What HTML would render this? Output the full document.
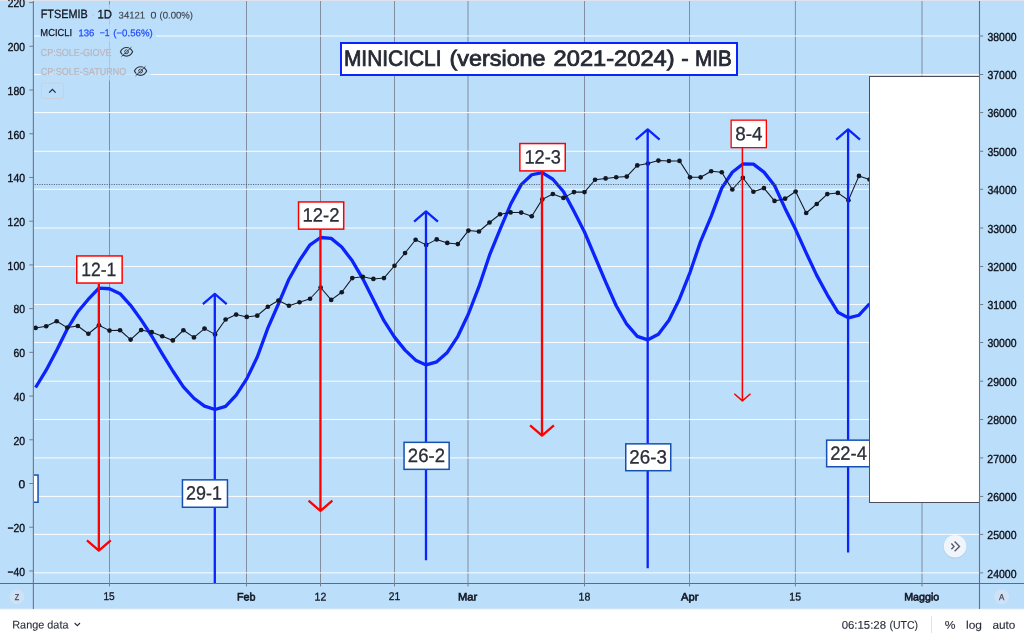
<!DOCTYPE html>
<html lang="it"><head><meta charset="utf-8"><title>MINICICLI (versione 2021-2024) - MIB</title>
<style>
html,body{margin:0;padding:0;width:1024px;height:640px;overflow:hidden;background:#fff;font-family:'Liberation Sans', sans-serif;}
svg{display:block;position:absolute;left:0;top:0;font-family:'Liberation Sans', sans-serif;}
</style></head><body>
<svg width="1024" height="640" viewBox="0 0 1024 640">
<rect x="0" y="0" width="1024" height="609.4" fill="#BBDEFB"/>
<rect x="0" y="0" width="1024" height="1" fill="#dfe2ea"/>
<rect x="0" y="609" width="1024" height="31" fill="#ffffff"/>
<rect x="0" y="608.6" width="1024" height="0.9" fill="#e3eefa"/>
<defs><clipPath id="pane"><rect x="34" y="1" width="945" height="582"/></clipPath></defs>
<g clip-path="url(#pane)">
<rect x="109.00" y="1" width="1" height="582" fill="#747a8a" fill-opacity="0.8"/>
<rect x="246.00" y="1" width="1" height="582" fill="#747a8a" fill-opacity="0.8"/>
<rect x="320.00" y="1" width="1" height="582" fill="#747a8a" fill-opacity="0.8"/>
<rect x="394.00" y="1" width="1" height="582" fill="#747a8a" fill-opacity="0.8"/>
<rect x="467.50" y="1" width="1" height="582" fill="#747a8a" fill-opacity="0.8"/>
<rect x="584.00" y="1" width="1" height="582" fill="#747a8a" fill-opacity="0.8"/>
<rect x="689.00" y="1" width="1" height="582" fill="#747a8a" fill-opacity="0.8"/>
<rect x="794.90" y="1" width="1" height="582" fill="#747a8a" fill-opacity="0.8"/>
<rect x="921.50" y="1" width="1" height="582" fill="#747a8a" fill-opacity="0.8"/>
<rect x="34" y="35.45" width="945" height="1.1" fill="#ffffff" fill-opacity="0.86"/>
<rect x="34" y="73.95" width="945" height="1.1" fill="#ffffff" fill-opacity="0.86"/>
<rect x="34" y="112.00" width="945" height="1.1" fill="#ffffff" fill-opacity="0.86"/>
<rect x="34" y="150.75" width="945" height="1.1" fill="#ffffff" fill-opacity="0.86"/>
<rect x="34" y="188.75" width="945" height="1.1" fill="#ffffff" fill-opacity="0.86"/>
<rect x="34" y="227.45" width="945" height="1.1" fill="#ffffff" fill-opacity="0.86"/>
<rect x="34" y="265.95" width="945" height="1.1" fill="#ffffff" fill-opacity="0.86"/>
<rect x="34" y="303.95" width="945" height="1.1" fill="#ffffff" fill-opacity="0.86"/>
<rect x="34" y="341.95" width="945" height="1.1" fill="#ffffff" fill-opacity="0.86"/>
<rect x="34" y="380.65" width="945" height="1.1" fill="#ffffff" fill-opacity="0.86"/>
<rect x="34" y="418.95" width="945" height="1.1" fill="#ffffff" fill-opacity="0.86"/>
<rect x="34" y="457.35" width="945" height="1.1" fill="#ffffff" fill-opacity="0.86"/>
<rect x="34" y="495.90" width="945" height="1.1" fill="#ffffff" fill-opacity="0.86"/>
<rect x="34" y="533.85" width="945" height="1.1" fill="#ffffff" fill-opacity="0.86"/>
<rect x="34" y="572.30" width="945" height="1.1" fill="#ffffff" fill-opacity="0.86"/>
<rect x="40.5" y="4.5" width="155" height="19" fill="#BBDEFB" fill-opacity="0.7"/>
<rect x="40.5" y="23.5" width="115.5" height="19" fill="#BBDEFB" fill-opacity="0.85"/>
<rect x="40.5" y="42.5" width="96" height="19" fill="#BBDEFB" fill-opacity="0.7"/>
<rect x="40.5" y="61.5" width="110.5" height="19" fill="#BBDEFB" fill-opacity="0.7"/>
<polyline points="35.60,387.50 46.16,370.15 56.71,350.24 67.27,329.00 77.82,311.80 88.38,299.23 98.94,288.07 109.49,288.74 120.05,293.65 130.60,305.30 141.16,319.87 151.72,336.00 162.27,353.80 172.83,371.00 183.38,386.80 193.94,398.25 204.50,406.15 215.05,409.48 225.61,406.44 236.16,395.10 246.72,378.90 257.28,357.00 267.83,328.18 278.39,303.99 288.94,279.21 299.50,260.44 310.06,244.79 320.61,237.51 331.17,238.39 341.72,247.07 352.28,260.87 362.84,278.84 373.39,299.78 383.95,320.70 394.50,337.12 405.06,350.10 415.62,360.14 426.17,364.95 436.73,361.80 447.28,352.45 457.84,336.32 468.40,314.01 478.95,286.70 489.51,255.20 500.06,229.26 510.62,204.27 521.18,184.60 531.73,174.75 542.29,172.68 552.84,179.25 563.40,191.51 573.96,211.30 584.51,232.00 595.07,257.00 605.62,281.90 616.18,305.74 626.74,324.20 637.29,336.35 647.85,339.82 658.40,334.28 668.96,320.20 679.52,298.90 690.07,272.30 700.63,241.30 711.18,216.30 721.74,188.08 732.30,172.26 742.85,164.00 753.41,164.11 763.96,172.14 774.52,185.51 785.08,208.40 795.63,229.60 806.19,252.88 816.74,275.40 827.30,294.80 837.86,312.20 848.41,317.91 858.97,315.23 869.52,303.75" fill="none" stroke="#0b24fb" stroke-width="3.3" stroke-linejoin="round" stroke-linecap="butt"/>
<polyline points="35.60,327.90 46.16,326.25 56.71,321.25 67.27,327.60 77.82,326.00 88.38,333.75 98.94,325.25 109.49,330.60 120.05,330.25 130.60,339.60 141.16,330.00 151.72,332.20 162.27,336.25 172.83,340.40 183.38,330.25 193.94,337.40 204.50,328.60 215.05,334.40 225.61,319.50 236.16,314.60 246.72,316.90 257.28,315.70 267.83,306.75 278.39,300.50 288.94,305.75 299.50,302.25 310.06,298.75 320.61,287.50 331.17,299.90 341.72,292.25 352.28,278.10 362.84,276.75 373.39,278.90 383.95,278.10 394.50,265.75 405.06,253.00 415.62,239.75 426.17,244.90 436.73,239.40 447.28,242.90 457.84,244.10 468.40,230.60 478.95,231.50 489.51,222.50 500.06,214.25 510.62,212.45 521.18,212.60 531.73,216.25 542.29,199.40 552.84,194.00 563.40,197.90 573.96,192.10 584.51,192.10 595.07,179.75 605.62,178.40 616.18,177.25 626.74,176.60 637.29,165.40 647.85,163.50 658.40,160.60 668.96,161.00 679.52,160.90 690.07,177.30 700.63,177.30 711.18,171.25 721.74,172.25 732.30,189.50 742.85,177.75 753.41,191.75 763.96,188.10 774.52,200.90 785.08,198.70 795.63,191.50 806.19,213.00 816.74,204.00 827.30,194.10 837.86,192.90 848.41,200.25 858.97,175.90 869.52,179.50" fill="none" stroke="#131722" stroke-width="1.05" stroke-linejoin="round"/>
<g fill="#131722">
<circle cx="35.60" cy="327.90" r="2.35"/>
<circle cx="46.16" cy="326.25" r="2.35"/>
<circle cx="56.71" cy="321.25" r="2.35"/>
<circle cx="67.27" cy="327.60" r="2.35"/>
<circle cx="77.82" cy="326.00" r="2.35"/>
<circle cx="88.38" cy="333.75" r="2.35"/>
<circle cx="98.94" cy="325.25" r="2.35"/>
<circle cx="109.49" cy="330.60" r="2.35"/>
<circle cx="120.05" cy="330.25" r="2.35"/>
<circle cx="130.60" cy="339.60" r="2.35"/>
<circle cx="141.16" cy="330.00" r="2.35"/>
<circle cx="151.72" cy="332.20" r="2.35"/>
<circle cx="162.27" cy="336.25" r="2.35"/>
<circle cx="172.83" cy="340.40" r="2.35"/>
<circle cx="183.38" cy="330.25" r="2.35"/>
<circle cx="193.94" cy="337.40" r="2.35"/>
<circle cx="204.50" cy="328.60" r="2.35"/>
<circle cx="215.05" cy="334.40" r="2.35"/>
<circle cx="225.61" cy="319.50" r="2.35"/>
<circle cx="236.16" cy="314.60" r="2.35"/>
<circle cx="246.72" cy="316.90" r="2.35"/>
<circle cx="257.28" cy="315.70" r="2.35"/>
<circle cx="267.83" cy="306.75" r="2.35"/>
<circle cx="278.39" cy="300.50" r="2.35"/>
<circle cx="288.94" cy="305.75" r="2.35"/>
<circle cx="299.50" cy="302.25" r="2.35"/>
<circle cx="310.06" cy="298.75" r="2.35"/>
<circle cx="320.61" cy="287.50" r="2.35"/>
<circle cx="331.17" cy="299.90" r="2.35"/>
<circle cx="341.72" cy="292.25" r="2.35"/>
<circle cx="352.28" cy="278.10" r="2.35"/>
<circle cx="362.84" cy="276.75" r="2.35"/>
<circle cx="373.39" cy="278.90" r="2.35"/>
<circle cx="383.95" cy="278.10" r="2.35"/>
<circle cx="394.50" cy="265.75" r="2.35"/>
<circle cx="405.06" cy="253.00" r="2.35"/>
<circle cx="415.62" cy="239.75" r="2.35"/>
<circle cx="426.17" cy="244.90" r="2.35"/>
<circle cx="436.73" cy="239.40" r="2.35"/>
<circle cx="447.28" cy="242.90" r="2.35"/>
<circle cx="457.84" cy="244.10" r="2.35"/>
<circle cx="468.40" cy="230.60" r="2.35"/>
<circle cx="478.95" cy="231.50" r="2.35"/>
<circle cx="489.51" cy="222.50" r="2.35"/>
<circle cx="500.06" cy="214.25" r="2.35"/>
<circle cx="510.62" cy="212.45" r="2.35"/>
<circle cx="521.18" cy="212.60" r="2.35"/>
<circle cx="531.73" cy="216.25" r="2.35"/>
<circle cx="542.29" cy="199.40" r="2.35"/>
<circle cx="552.84" cy="194.00" r="2.35"/>
<circle cx="563.40" cy="197.90" r="2.35"/>
<circle cx="573.96" cy="192.10" r="2.35"/>
<circle cx="584.51" cy="192.10" r="2.35"/>
<circle cx="595.07" cy="179.75" r="2.35"/>
<circle cx="605.62" cy="178.40" r="2.35"/>
<circle cx="616.18" cy="177.25" r="2.35"/>
<circle cx="626.74" cy="176.60" r="2.35"/>
<circle cx="637.29" cy="165.40" r="2.35"/>
<circle cx="647.85" cy="163.50" r="2.35"/>
<circle cx="658.40" cy="160.60" r="2.35"/>
<circle cx="668.96" cy="161.00" r="2.35"/>
<circle cx="679.52" cy="160.90" r="2.35"/>
<circle cx="690.07" cy="177.30" r="2.35"/>
<circle cx="700.63" cy="177.30" r="2.35"/>
<circle cx="711.18" cy="171.25" r="2.35"/>
<circle cx="721.74" cy="172.25" r="2.35"/>
<circle cx="732.30" cy="189.50" r="2.35"/>
<circle cx="742.85" cy="177.75" r="2.35"/>
<circle cx="753.41" cy="191.75" r="2.35"/>
<circle cx="763.96" cy="188.10" r="2.35"/>
<circle cx="774.52" cy="200.90" r="2.35"/>
<circle cx="785.08" cy="198.70" r="2.35"/>
<circle cx="795.63" cy="191.50" r="2.35"/>
<circle cx="806.19" cy="213.00" r="2.35"/>
<circle cx="816.74" cy="204.00" r="2.35"/>
<circle cx="827.30" cy="194.10" r="2.35"/>
<circle cx="837.86" cy="192.90" r="2.35"/>
<circle cx="848.41" cy="200.25" r="2.35"/>
<circle cx="858.97" cy="175.90" r="2.35"/>
<circle cx="869.52" cy="179.50" r="2.35"/>
</g>
<line x1="34.6" y1="184.55" x2="979" y2="184.55" stroke="#4a5062" stroke-opacity="0.85" stroke-width="1.1" stroke-dasharray="1.1 1.3"/>
<path d="M98.85 284V550.62M86.95 540.42L98.85 550.62L110.75 540.42" fill="none" stroke="#ff0000" stroke-width="2.3" stroke-linejoin="round"/>
<path d="M320.45 229V510.92M308.55 500.72L320.45 510.92L332.35 500.72" fill="none" stroke="#ff0000" stroke-width="2.3" stroke-linejoin="round"/>
<path d="M542.0 171V435.62M530.10 425.42L542.0 435.62L553.90 425.42" fill="none" stroke="#ff0000" stroke-width="2.3" stroke-linejoin="round"/>
<path d="M742.4 148V400.90M734.30 393.80L742.4 400.90L750.50 393.80" fill="none" stroke="#ff0000" stroke-width="1.5" stroke-linejoin="round"/>
<path d="M214.8 590V293.88M202.90 304.08L214.8 293.88L226.70 304.08" fill="none" stroke="#0b24fb" stroke-width="2.3" stroke-linejoin="round"/>
<path d="M426.0 560.2V211.38M414.10 221.58L426.0 211.38L437.90 221.58" fill="none" stroke="#0b24fb" stroke-width="2.3" stroke-linejoin="round"/>
<path d="M647.7 568.2V129.38M635.80 139.58L647.7 129.38L659.60 139.58" fill="none" stroke="#0b24fb" stroke-width="2.3" stroke-linejoin="round"/>
<path d="M848.1 552.6V129.38M836.20 139.58L848.1 129.38L860.00 139.58" fill="none" stroke="#0b24fb" stroke-width="2.3" stroke-linejoin="round"/>
<rect x="76.75" y="255.95" width="45.40" height="27.10" fill="#fff" stroke="#ff0000" stroke-width="1.5"/>
<text transform="translate(81.14 275.6) rotate(0.03)" font-size="19.2" fill="#2a2e39" stroke="#2a2e39" stroke-width="0.3" textLength="35.07" lengthAdjust="spacingAndGlyphs">12-1</text>
<rect x="298.55" y="201.95" width="45.15" height="27.20" fill="#fff" stroke="#ff0000" stroke-width="1.5"/>
<text transform="translate(302.56 221.6) rotate(0.03)" font-size="19.2" fill="#2a2e39" stroke="#2a2e39" stroke-width="0.3" textLength="36.99" lengthAdjust="spacingAndGlyphs">12-2</text>
<rect x="519.85" y="143.55" width="45.40" height="27.35" fill="#fff" stroke="#ff0000" stroke-width="1.5"/>
<text transform="translate(524.38 163.4) rotate(0.03)" font-size="19.2" fill="#2a2e39" stroke="#2a2e39" stroke-width="0.3" textLength="36.47" lengthAdjust="spacingAndGlyphs">12-3</text>
<rect x="731.15" y="120.15" width="35.20" height="27.50" fill="#fff" stroke="#ff0000" stroke-width="1.3"/>
<text transform="translate(735.15 140.2) rotate(0.03)" font-size="19.2" fill="#2a2e39" stroke="#2a2e39" stroke-width="0.3" textLength="27.23" lengthAdjust="spacingAndGlyphs">8-4</text>
<rect x="182.45" y="479.85" width="45.00" height="27.40" fill="#fff" stroke="#1650b0" stroke-width="1.5"/>
<text transform="translate(186.05 499.5) rotate(0.03)" font-size="19.2" fill="#2a2e39" stroke="#2a2e39" stroke-width="0.3" textLength="35.87" lengthAdjust="spacingAndGlyphs">29-1</text>
<rect x="404.05" y="442.35" width="45.10" height="27.00" fill="#fff" stroke="#1650b0" stroke-width="1.5"/>
<text transform="translate(407.87 462.0) rotate(0.03)" font-size="19.2" fill="#2a2e39" stroke="#2a2e39" stroke-width="0.3" textLength="37.13" lengthAdjust="spacingAndGlyphs">26-2</text>
<rect x="625.75" y="443.85" width="45.00" height="26.85" fill="#fff" stroke="#1650b0" stroke-width="1.5"/>
<text transform="translate(629.31 463.5) rotate(0.03)" font-size="19.2" fill="#2a2e39" stroke="#2a2e39" stroke-width="0.3" textLength="37.56" lengthAdjust="spacingAndGlyphs">26-3</text>
<rect x="826.65" y="440.15" width="45.00" height="26.60" fill="#fff" stroke="#1650b0" stroke-width="1.5"/>
<text transform="translate(830.13 459.7) rotate(0.03)" font-size="19.2" fill="#2a2e39" stroke="#2a2e39" stroke-width="0.3" textLength="36.75" lengthAdjust="spacingAndGlyphs">22-4</text>
<rect x="-9.25" y="475.05" width="47.30" height="27.20" fill="#fff" stroke="#1650b0" stroke-width="1.5"/>
<rect x="341" y="43" width="396" height="32" fill="#fff" stroke="#0b24fb" stroke-width="2"/>
<text transform="translate(343.92 65.75) rotate(0.03)" font-size="22.0" fill="#262a35" stroke="#262a35" stroke-width="0.8" textLength="97.6" lengthAdjust="spacingAndGlyphs">MINICICLI</text>
<text transform="translate(449.54 65.75) rotate(0.03)" font-size="22.0" fill="#262a35" stroke="#262a35" stroke-width="0.8" textLength="96.06" lengthAdjust="spacingAndGlyphs">(versione</text>
<text transform="translate(553.62 65.75) rotate(0.03)" font-size="22.0" fill="#262a35" stroke="#262a35" stroke-width="0.8" textLength="120.97" lengthAdjust="spacingAndGlyphs">2021-2024)</text>
<text transform="translate(681.3 65.75) rotate(0.03)" font-size="22.0" fill="#262a35" stroke="#262a35" stroke-width="0.8" textLength="7.42" lengthAdjust="spacingAndGlyphs">-</text>
<text transform="translate(694.94 65.75) rotate(0.03)" font-size="22.0" fill="#262a35" stroke="#262a35" stroke-width="0.8" textLength="36.75" lengthAdjust="spacingAndGlyphs">MIB</text>
<rect x="869.5" y="76.5" width="112" height="426" fill="#fff" stroke="#4c505c" stroke-width="1"/>
<circle cx="955.1" cy="547" r="11.6" fill="#6d8fb5" fill-opacity="0.18"/>
<circle cx="955.1" cy="546.3" r="11.3" fill="#f0f5fc"/>
<path d="M951.4 543.5L954 546.4L951.4 549.3M954.6 541.6L959.5 546.4L954.6 551.2" fill="none" stroke="#555966" stroke-width="1.35"/>
<text transform="translate(40.76 18.15) rotate(0.03)" font-size="12.0" fill="#131722" stroke="#131722" stroke-width="0.3" textLength="46.84" lengthAdjust="spacingAndGlyphs">FTSEMIB</text>
<text transform="translate(91.2 18.3) rotate(0.03)" font-size="12" fill="#c9b9c4">·</text>
<text transform="translate(97.5 18.15) rotate(0.03)" font-size="12.0" fill="#131722" stroke="#131722" stroke-width="0.3" textLength="14.5" lengthAdjust="spacingAndGlyphs">1D</text>
<text transform="translate(118.6 18.4) rotate(0.03)" font-size="9.7" fill="#3a3e49" stroke="#3a3e49" stroke-width="0.12" textLength="26.5" lengthAdjust="spacingAndGlyphs">34121</text>
<text transform="translate(150.43 18.4) rotate(0.03)" font-size="9.7" fill="#3a3e49" stroke="#3a3e49" stroke-width="0.12" textLength="5.92" lengthAdjust="spacingAndGlyphs">0</text>
<text transform="translate(159.56 18.4) rotate(0.03)" font-size="9.7" fill="#3a3e49" stroke="#3a3e49" stroke-width="0.12" textLength="33.49" lengthAdjust="spacingAndGlyphs">(0.00%)</text>
<text transform="translate(40.35 36.2) rotate(0.03)" font-size="10.1" fill="#131722" stroke="#131722" stroke-width="0.25" textLength="31.68" lengthAdjust="spacingAndGlyphs">MCICLI</text>
<text transform="translate(78.41 36.2) rotate(0.03)" font-size="9.8" fill="#1f4cff" stroke="#1f4cff" stroke-width="0.25" textLength="15.88" lengthAdjust="spacingAndGlyphs">136</text>
<text transform="translate(99.79 36.2) rotate(0.03)" font-size="9.8" fill="#1f4cff" stroke="#1f4cff" stroke-width="0.25" textLength="9.9" lengthAdjust="spacingAndGlyphs">−1</text>
<text transform="translate(113.27 36.2) rotate(0.03)" font-size="9.8" fill="#1f4cff" stroke="#1f4cff" stroke-width="0.25" textLength="39.41" lengthAdjust="spacingAndGlyphs">(−0.56%)</text>
<text transform="translate(40.65 55.6) rotate(0.03)" font-size="10.1" fill="#bbb6be" stroke="#bbb6be" stroke-width="0.2" textLength="70.94" lengthAdjust="spacingAndGlyphs">CP:SOLE-GIOVE</text>
<text transform="translate(40.75 74.9) rotate(0.03)" font-size="10.1" fill="#bbb6be" stroke="#bbb6be" stroke-width="0.2" textLength="85.48" lengthAdjust="spacingAndGlyphs">CP:SOLE-SATURNO</text>
<g fill="none" stroke="#30343f" stroke-width="1.15" transform="translate(126.5 51.8)"><path d="M-6.1 0C-4.7 -3 -2.5 -4.3 0 -4.3C2.5 -4.3 4.7 -3 6.1 0C4.7 3 2.5 4.3 0 4.3C-2.5 4.3 -4.7 3 -6.1 0Z"/><circle cx="0" cy="0" r="1.9" stroke-width="1"/><path d="M-5.5 4.0L4.3 -5.3" stroke="#BBDEFB" stroke-width="0.7"/><path d="M-4.9 4.7L4.9 -4.6" stroke-width="0.95"/></g>
<g fill="none" stroke="#30343f" stroke-width="1.15" transform="translate(140.55 71.05)"><path d="M-6.1 0C-4.7 -3 -2.5 -4.3 0 -4.3C2.5 -4.3 4.7 -3 6.1 0C4.7 3 2.5 4.3 0 4.3C-2.5 4.3 -4.7 3 -6.1 0Z"/><circle cx="0" cy="0" r="1.9" stroke-width="1"/><path d="M-5.5 4.0L4.3 -5.3" stroke="#BBDEFB" stroke-width="0.7"/><path d="M-4.9 4.7L4.9 -4.6" stroke-width="0.95"/></g>
<rect x="41.4" y="83" width="22" height="15.6" rx="2" fill="none" stroke="#cdced9" stroke-width="1"/>
<path d="M49.2 92.6L52.4 89.4L55.6 92.6" fill="none" stroke="#2a2e39" stroke-width="1.3"/>
</g>
<rect x="32.8" y="1" width="1.2" height="608" fill="#777c8a"/>
<rect x="978.95" y="1" width="1.1" height="608" fill="#6a6f7d"/>
<rect x="0" y="583" width="1024" height="1" fill="#666a78"/>
<rect x="29.3" y="570.44" width="4" height="1" fill="#777c8a"/>
<text transform="translate(7.46 575.79) rotate(0.03)" font-size="11.7" fill="#0b0d14" stroke="#0b0d14" stroke-width="0.35" textLength="17.57" lengthAdjust="spacingAndGlyphs">−40</text>
<rect x="29.3" y="526.72" width="4" height="1" fill="#777c8a"/>
<text transform="translate(7.46 532.07) rotate(0.03)" font-size="11.7" fill="#0b0d14" stroke="#0b0d14" stroke-width="0.35" textLength="17.57" lengthAdjust="spacingAndGlyphs">−20</text>
<rect x="29.3" y="483.00" width="4" height="1" fill="#777c8a"/>
<text transform="translate(18.39 488.35) rotate(0.03)" font-size="11.7" fill="#0b0d14" stroke="#0b0d14" stroke-width="0.35" textLength="6.7" lengthAdjust="spacingAndGlyphs">0</text>
<rect x="29.3" y="439.28" width="4" height="1" fill="#777c8a"/>
<text transform="translate(13.45 444.63) rotate(0.03)" font-size="11.7" fill="#0b0d14" stroke="#0b0d14" stroke-width="0.35" textLength="11.59" lengthAdjust="spacingAndGlyphs">20</text>
<rect x="29.3" y="395.56" width="4" height="1" fill="#777c8a"/>
<text transform="translate(13.75 400.91) rotate(0.03)" font-size="11.7" fill="#0b0d14" stroke="#0b0d14" stroke-width="0.35" textLength="11.28" lengthAdjust="spacingAndGlyphs">40</text>
<rect x="29.3" y="351.84" width="4" height="1" fill="#777c8a"/>
<text transform="translate(13.45 357.19) rotate(0.03)" font-size="11.7" fill="#0b0d14" stroke="#0b0d14" stroke-width="0.35" textLength="11.59" lengthAdjust="spacingAndGlyphs">60</text>
<rect x="29.3" y="308.12" width="4" height="1" fill="#777c8a"/>
<text transform="translate(13.54 313.47) rotate(0.03)" font-size="11.7" fill="#0b0d14" stroke="#0b0d14" stroke-width="0.35" textLength="11.5" lengthAdjust="spacingAndGlyphs">80</text>
<rect x="29.3" y="264.40" width="4" height="1" fill="#777c8a"/>
<text transform="translate(7.59 269.75) rotate(0.03)" font-size="11.7" fill="#0b0d14" stroke="#0b0d14" stroke-width="0.35" textLength="17.44" lengthAdjust="spacingAndGlyphs">100</text>
<rect x="29.3" y="220.68" width="4" height="1" fill="#777c8a"/>
<text transform="translate(7.59 226.03) rotate(0.03)" font-size="11.7" fill="#0b0d14" stroke="#0b0d14" stroke-width="0.35" textLength="17.44" lengthAdjust="spacingAndGlyphs">120</text>
<rect x="29.3" y="176.96" width="4" height="1" fill="#777c8a"/>
<text transform="translate(7.59 182.31) rotate(0.03)" font-size="11.7" fill="#0b0d14" stroke="#0b0d14" stroke-width="0.35" textLength="17.44" lengthAdjust="spacingAndGlyphs">140</text>
<rect x="29.3" y="133.24" width="4" height="1" fill="#777c8a"/>
<text transform="translate(7.59 138.59) rotate(0.03)" font-size="11.7" fill="#0b0d14" stroke="#0b0d14" stroke-width="0.35" textLength="17.44" lengthAdjust="spacingAndGlyphs">160</text>
<rect x="29.3" y="89.52" width="4" height="1" fill="#777c8a"/>
<text transform="translate(7.59 94.87) rotate(0.03)" font-size="11.7" fill="#0b0d14" stroke="#0b0d14" stroke-width="0.35" textLength="17.44" lengthAdjust="spacingAndGlyphs">180</text>
<rect x="29.3" y="45.80" width="4" height="1" fill="#777c8a"/>
<text transform="translate(7.86 51.15) rotate(0.03)" font-size="11.7" fill="#0b0d14" stroke="#0b0d14" stroke-width="0.35" textLength="17.16" lengthAdjust="spacingAndGlyphs">200</text>
<rect x="29.3" y="2.08" width="4" height="1" fill="#777c8a"/>
<text transform="translate(7.86 7.43) rotate(0.03)" font-size="11.7" fill="#0b0d14" stroke="#0b0d14" stroke-width="0.35" textLength="17.16" lengthAdjust="spacingAndGlyphs">220</text>
<rect x="979" y="35.50" width="4.2" height="1" fill="#777c8a"/>
<text transform="translate(987.48 40.9) rotate(0.03)" font-size="11.7" fill="#0b0d14" stroke="#0b0d14" stroke-width="0.35" textLength="29.04" lengthAdjust="spacingAndGlyphs">38000</text>
<rect x="979" y="74.00" width="4.2" height="1" fill="#777c8a"/>
<text transform="translate(987.48 79.4) rotate(0.03)" font-size="11.7" fill="#0b0d14" stroke="#0b0d14" stroke-width="0.35" textLength="29.04" lengthAdjust="spacingAndGlyphs">37000</text>
<rect x="979" y="112.05" width="4.2" height="1" fill="#777c8a"/>
<text transform="translate(987.48 117.45) rotate(0.03)" font-size="11.7" fill="#0b0d14" stroke="#0b0d14" stroke-width="0.35" textLength="29.04" lengthAdjust="spacingAndGlyphs">36000</text>
<rect x="979" y="150.80" width="4.2" height="1" fill="#777c8a"/>
<text transform="translate(987.48 156.2) rotate(0.03)" font-size="11.7" fill="#0b0d14" stroke="#0b0d14" stroke-width="0.35" textLength="29.04" lengthAdjust="spacingAndGlyphs">35000</text>
<rect x="979" y="188.80" width="4.2" height="1" fill="#777c8a"/>
<text transform="translate(987.48 194.2) rotate(0.03)" font-size="11.7" fill="#0b0d14" stroke="#0b0d14" stroke-width="0.35" textLength="29.04" lengthAdjust="spacingAndGlyphs">34000</text>
<rect x="979" y="227.50" width="4.2" height="1" fill="#777c8a"/>
<text transform="translate(987.48 232.9) rotate(0.03)" font-size="11.7" fill="#0b0d14" stroke="#0b0d14" stroke-width="0.35" textLength="29.04" lengthAdjust="spacingAndGlyphs">33000</text>
<rect x="979" y="266.00" width="4.2" height="1" fill="#777c8a"/>
<text transform="translate(987.48 271.4) rotate(0.03)" font-size="11.7" fill="#0b0d14" stroke="#0b0d14" stroke-width="0.35" textLength="29.04" lengthAdjust="spacingAndGlyphs">32000</text>
<rect x="979" y="304.00" width="4.2" height="1" fill="#777c8a"/>
<text transform="translate(987.48 309.4) rotate(0.03)" font-size="11.7" fill="#0b0d14" stroke="#0b0d14" stroke-width="0.35" textLength="29.04" lengthAdjust="spacingAndGlyphs">31000</text>
<rect x="979" y="342.00" width="4.2" height="1" fill="#777c8a"/>
<text transform="translate(987.48 347.4) rotate(0.03)" font-size="11.7" fill="#0b0d14" stroke="#0b0d14" stroke-width="0.35" textLength="29.04" lengthAdjust="spacingAndGlyphs">30000</text>
<rect x="979" y="380.70" width="4.2" height="1" fill="#777c8a"/>
<text transform="translate(987.35 386.1) rotate(0.03)" font-size="11.7" fill="#0b0d14" stroke="#0b0d14" stroke-width="0.35" textLength="29.18" lengthAdjust="spacingAndGlyphs">29000</text>
<rect x="979" y="419.00" width="4.2" height="1" fill="#777c8a"/>
<text transform="translate(987.35 424.4) rotate(0.03)" font-size="11.7" fill="#0b0d14" stroke="#0b0d14" stroke-width="0.35" textLength="29.18" lengthAdjust="spacingAndGlyphs">28000</text>
<rect x="979" y="457.40" width="4.2" height="1" fill="#777c8a"/>
<text transform="translate(987.35 462.8) rotate(0.03)" font-size="11.7" fill="#0b0d14" stroke="#0b0d14" stroke-width="0.35" textLength="29.18" lengthAdjust="spacingAndGlyphs">27000</text>
<rect x="979" y="495.95" width="4.2" height="1" fill="#777c8a"/>
<text transform="translate(987.35 501.35) rotate(0.03)" font-size="11.7" fill="#0b0d14" stroke="#0b0d14" stroke-width="0.35" textLength="29.18" lengthAdjust="spacingAndGlyphs">26000</text>
<rect x="979" y="533.90" width="4.2" height="1" fill="#777c8a"/>
<text transform="translate(987.35 539.3) rotate(0.03)" font-size="11.7" fill="#0b0d14" stroke="#0b0d14" stroke-width="0.35" textLength="29.18" lengthAdjust="spacingAndGlyphs">25000</text>
<rect x="979" y="572.35" width="4.2" height="1" fill="#777c8a"/>
<text transform="translate(987.35 577.75) rotate(0.03)" font-size="11.7" fill="#0b0d14" stroke="#0b0d14" stroke-width="0.35" textLength="29.18" lengthAdjust="spacingAndGlyphs">24000</text>
<rect x="109.00" y="583" width="1" height="3.4" fill="#777c8a"/>
<text transform="translate(103.39 600.45) rotate(0.03)" font-size="11.2" fill="#131722" stroke="#131722" stroke-width="0.3" textLength="11.29" lengthAdjust="spacingAndGlyphs">15</text>
<rect x="246.00" y="583" width="1" height="3.4" fill="#777c8a"/>
<text transform="translate(236.92 600.45) rotate(0.03)" font-size="10.8" fill="#131722" stroke="#131722" stroke-width="0.6" textLength="18.47" lengthAdjust="spacingAndGlyphs">Feb</text>
<rect x="320.00" y="583" width="1" height="3.4" fill="#777c8a"/>
<text transform="translate(314.61 600.45) rotate(0.03)" font-size="11.2" fill="#131722" stroke="#131722" stroke-width="0.3" textLength="11.69" lengthAdjust="spacingAndGlyphs">12</text>
<rect x="394.00" y="583" width="1" height="3.4" fill="#777c8a"/>
<text transform="translate(388.84 600.45) rotate(0.03)" font-size="11.2" fill="#131722" stroke="#131722" stroke-width="0.3" textLength="11.43" lengthAdjust="spacingAndGlyphs">21</text>
<rect x="467.50" y="583" width="1" height="3.4" fill="#777c8a"/>
<text transform="translate(457.88 600.45) rotate(0.03)" font-size="10.8" fill="#131722" stroke="#131722" stroke-width="0.6" textLength="19.24" lengthAdjust="spacingAndGlyphs">Mar</text>
<rect x="584.00" y="583" width="1" height="3.4" fill="#777c8a"/>
<text transform="translate(578.56 600.45) rotate(0.03)" font-size="11.2" fill="#131722" stroke="#131722" stroke-width="0.3" textLength="11.77" lengthAdjust="spacingAndGlyphs">18</text>
<rect x="689.00" y="583" width="1" height="3.4" fill="#777c8a"/>
<text transform="translate(681.02 600.45) rotate(0.03)" font-size="10.8" fill="#131722" stroke="#131722" stroke-width="0.6" textLength="17.36" lengthAdjust="spacingAndGlyphs">Apr</text>
<rect x="794.90" y="583" width="1" height="3.4" fill="#777c8a"/>
<text transform="translate(789.36 600.45) rotate(0.03)" font-size="11.2" fill="#131722" stroke="#131722" stroke-width="0.3" textLength="11.68" lengthAdjust="spacingAndGlyphs">15</text>
<rect x="921.50" y="583" width="1" height="3.4" fill="#777c8a"/>
<text transform="translate(904.17 600.45) rotate(0.03)" font-size="10.8" fill="#131722" stroke="#131722" stroke-width="0.6" textLength="35.09" lengthAdjust="spacingAndGlyphs">Maggio</text>
<circle cx="16.9" cy="596.7" r="7.5" fill="#d0e1f4" fill-opacity="0.9"/>
<text transform="translate(16.9 599.9) rotate(0.03)" font-size="8.6" fill="#454955" stroke="#454955" stroke-width="0.25" text-anchor="middle" textLength="4.4" lengthAdjust="spacingAndGlyphs">Z</text>
<circle cx="1001.6" cy="596.7" r="7.5" fill="#d0e1f4" fill-opacity="0.9"/>
<text transform="translate(1001.6 599.9) rotate(0.03)" font-size="8.6" fill="#454955" stroke="#454955" stroke-width="0.25" text-anchor="middle" textLength="5.3" lengthAdjust="spacingAndGlyphs">A</text>
<text transform="translate(12.26 628.4) rotate(0.03)" font-size="11.1" fill="#2a2e39" stroke="#2a2e39" stroke-width="0.12" textLength="56.19" lengthAdjust="spacingAndGlyphs">Range data</text>
<path d="M74.6 623L77.3 625.7L80 623" fill="none" stroke="#2a2e39" stroke-width="1.1"/>
<text transform="translate(841.7 628.65) rotate(0.03)" font-size="11.2" fill="#2a2e39" stroke="#2a2e39" stroke-width="0.12" textLength="44.32" lengthAdjust="spacingAndGlyphs">06:15:28</text>
<text transform="translate(889.5 628.65) rotate(0.03)" font-size="11.2" fill="#2a2e39" stroke="#2a2e39" stroke-width="0.12" textLength="28.61" lengthAdjust="spacingAndGlyphs">(UTC)</text>
<rect x="931" y="616" width="1" height="17" fill="#e0e3eb"/>
<text transform="translate(944.64 628.65) rotate(0.03)" font-size="11.2" fill="#2a2e39" stroke="#2a2e39" stroke-width="0.12" textLength="10.75" lengthAdjust="spacingAndGlyphs">%</text>
<text transform="translate(966.0 628.65) rotate(0.03)" font-size="11.2" fill="#2a2e39" stroke="#2a2e39" stroke-width="0.12" textLength="15.96" lengthAdjust="spacingAndGlyphs">log</text>
<text transform="translate(992.46 628.65) rotate(0.03)" font-size="11.2" fill="#2a2e39" stroke="#2a2e39" stroke-width="0.12" textLength="22.97" lengthAdjust="spacingAndGlyphs">auto</text>
</svg>
</body></html>
